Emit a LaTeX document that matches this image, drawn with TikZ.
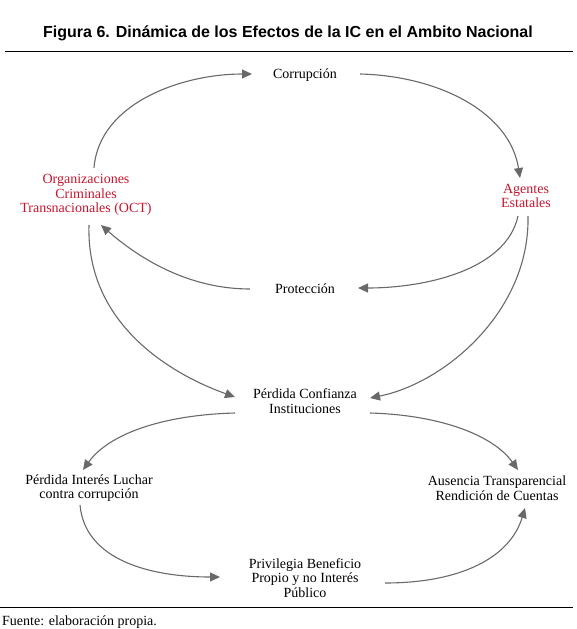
\documentclass[tikz,border=0pt]{standalone}
\usepackage{fontspec}
\setmainfont{Liberation Serif}
\newfontfamily\titlefont{Liberation Sans}
\usetikzlibrary{arrows.meta}
\definecolor{actorred}{RGB}{200,20,45}
\definecolor{flowgray}{RGB}{105,105,105}
\begin{document}
\begin{tikzpicture}[x=1pt,y=-1pt,
  lbl/.style={align=center,inner sep=0pt,font=\fontsize{14}{14.5}\selectfont},
  actor/.style={lbl,text=actorred},
  flow/.style={draw=flowgray,line width=1.1pt,-{Triangle[length=10pt,width=9pt]}},
  rule/.style={line width=0.9pt}]
\useasboundingbox (0,0) rectangle (577,629);
\node[inner sep=0pt,font=\titlefont\bfseries\fontsize{16}{18}\selectfont] (title) at (288,33) {Figura 6. Dinámica de los Efectos de la IC en el Ambito Nacional};
\coordinate (r1a) at (5,51); \coordinate (r1b) at (573,51);
\draw[rule] (r1a) -- (r1b);
\node[lbl] (corr) at (305,75) {Corrupción};
\node[actor] (oct) at (86,195) {Organizaciones\\Criminales\\Transnacionales (OCT)};
\node[actor] (agen) at (526,196) {Agentes\\Estatales};
\node[lbl] (prot) at (305,289) {Protección};
\node[lbl] (conf) at (305,401) {Pérdida Confianza\\Instituciones};
\node[lbl] (luch) at (89,488) {Pérdida Interés Luchar\\contra corrupción};
\node[lbl] (aus) at (497,488) {Ausencia Transparencial\\Rendición de Cuentas};
\node[lbl] (priv) at (305,578) {Privilegia Beneficio\\Propio y no Interés\\Público};
\coordinate (r2a) at (0,607); \coordinate (r2b) at (573,607);
\draw[rule] (r2a) -- (r2b);
\node[lbl,anchor=west,font=\fontsize{14}{15}\selectfont] (fuente) at (2,622) {Fuente: elaboración propia.};
% flows
\draw[flow] ([shift={(8,-27)}]oct.center) .. controls +(5,-65) and +(-70,0) .. ([shift={(-53,-1)}]corr.center);
\draw[flow] ([shift={(55,-1)}]corr.center) .. controls +(80,2) and +(-10,-65) .. ([shift={(-6,-18)}]agen.center);
\draw[flow] ([shift={(-8,20)}]agen.center) .. controls +(-12,55) and +(65,0) .. ([shift={(53,-1)}]prot.center);
\draw[flow] ([shift={(-55,0)}]prot.center) .. controls +(-60,0) and +(40,35) .. ([shift={(15,30)}]oct.center);
\draw[flow] ([shift={(3,30)}]oct.center) .. controls +(-3,95) and +(-70,-25) .. ([shift={(-70,-4)}]conf.center);
\draw[flow] ([shift={(2,20)}]agen.center) .. controls +(2,95) and +(75,-15) .. ([shift={(65,-3)}]conf.center);
\draw[flow] ([shift={(-70,12)}]conf.center) .. controls +(-75,2) and +(25,-35) .. ([shift={(-6,-18)}]luch.center);
\draw[flow] ([shift={(65,12)}]conf.center) .. controls +(70,2) and +(-25,-35) .. ([shift={(21,-18)}]aus.center);
\draw[flow] ([shift={(-9,17)}]luch.center) .. controls +(5,55) and +(-70,0) .. ([shift={(-85,-1)}]priv.center);
\draw[flow] ([shift={(80,5)}]priv.center) .. controls +(75,0) and +(-15,50) .. ([shift={(28,20)}]aus.center);
\end{tikzpicture}
\end{document}
